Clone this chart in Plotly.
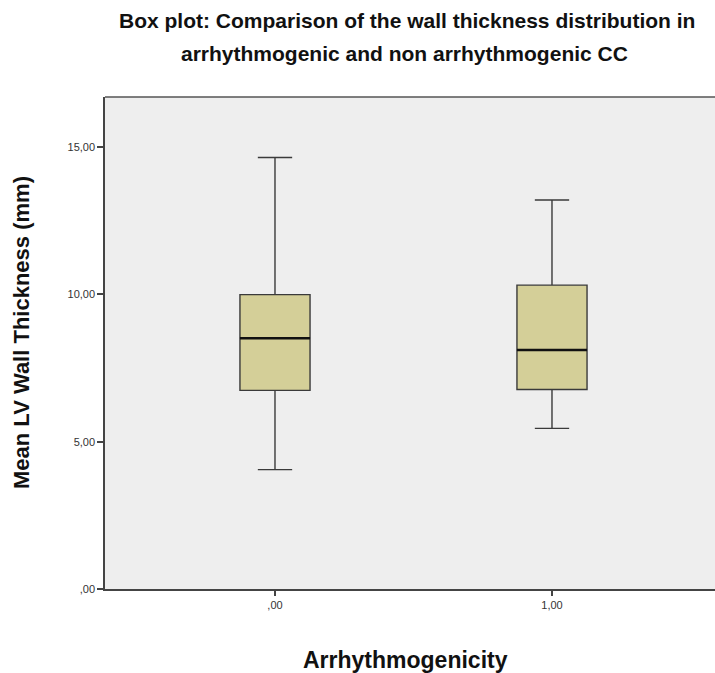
import plotly.graph_objects as go

groups = [0, 1]
group_labels = [",00", "1,00"]
lower_whisker = [4.05, 5.45]
q1_vals = [6.74, 6.77]
medians = [8.51, 8.11]
q3_vals = [9.99, 10.31]
upper_whisker = [14.64, 13.20]
y_tick_vals = [0, 5, 10, 15]
y_tick_text = [",00", "5,00", "10,00", "15,00"]

W, H = 715, 673
L, R, T, B = 105, 0, 97, 84
pw = W - L - R
ph = H - T - B

fig = go.Figure()
fig.add_trace(go.Box(
    x=groups,
    q1=q1_vals, median=medians, q3=q3_vals,
    lowerfence=lower_whisker, upperfence=upper_whisker,
    width=0.253, whiskerwidth=0.49,
    fillcolor="#d4cf98",
    line=dict(color="#3a3a3a", width=1.4),
    boxpoints=False, showlegend=False, hoverinfo="skip",
))
# thicker median line
fig.add_trace(go.Box(
    x=groups,
    q1=medians, median=medians, q3=medians,
    lowerfence=medians, upperfence=medians,
    width=0.253, whiskerwidth=0,
    fillcolor="rgba(0,0,0,0)",
    line=dict(color="#111111", width=2.4),
    boxpoints=False, showlegend=False, hoverinfo="skip",
))

def px_x(p):
    return (p - L) / pw

def px_y(p):
    return (H - B - p) / ph

fam = "Liberation Sans Narrow, Arial Narrow, Liberation Sans, Arial, sans-serif"
title_font = dict(family=fam, size=21, color="#111")
axis_title_font = dict(family=fam, size=22, color="#111")

fig.update_layout(
    width=W, height=H,
    margin=dict(l=L, r=R, t=T, b=B, pad=0),
    paper_bgcolor="white",
    plot_bgcolor="#eeeeee",
    boxmode="overlay",
    xaxis=dict(
        range=[-0.6137, -0.6137 + pw / 277.0],
        tickvals=groups, ticktext=group_labels,
        showgrid=False, zeroline=False,
        showline=True, linecolor="#444", linewidth=1.5,
        ticks="outside", ticklen=5, tickcolor="#444", tickwidth=1.5,
        tickfont=dict(family="Liberation Sans, Arial, sans-serif", size=11, color="#333"),
    ),
    yaxis=dict(
        range=[0, (589 - 97) / 29.47],
        tickvals=y_tick_vals, ticktext=y_tick_text,
        showgrid=False, zeroline=False,
        showline=True, linecolor="#444", linewidth=1.5,
        ticks="outside", ticklen=6, tickcolor="#444", tickwidth=1.5,
        tickfont=dict(family="Liberation Sans, Arial, sans-serif", size=11, color="#333"),
    ),
    shapes=[dict(type="line", xref="paper", yref="paper", x0=0, x1=1, y0=1, y1=1,
                 line=dict(color="#555", width=1.5))],
    annotations=[
        dict(text="<b>Box plot: Comparison of the wall thickness distribution in</b>",
             xref="paper", yref="paper", x=px_x(407), y=px_y(21), showarrow=False,
             xanchor="center", yanchor="middle", font=title_font),
        dict(text="<b>arrhythmogenic and non arrhythmogenic CC</b>",
             xref="paper", yref="paper", x=px_x(404), y=px_y(53), showarrow=False,
             xanchor="center", yanchor="middle", font=title_font),
        dict(text="<b>Mean LV Wall Thickness (mm)</b>", xref="paper", yref="paper",
             x=px_x(21), y=px_y(333), textangle=-90, showarrow=False,
             xanchor="center", yanchor="middle", font=axis_title_font),
        dict(text="<b>Arrhythmogenicity</b>", xref="paper", yref="paper",
             x=px_x(405), y=px_y(660), showarrow=False,
             xanchor="center", yanchor="middle",
             font=dict(family=fam, size=23, color="#111")),
    ],
)

fig.write_html("out.html",
               config={"displayModeBar": False},
               post_script="document.body.style.margin='0';document.body.style.overflow='hidden';")
